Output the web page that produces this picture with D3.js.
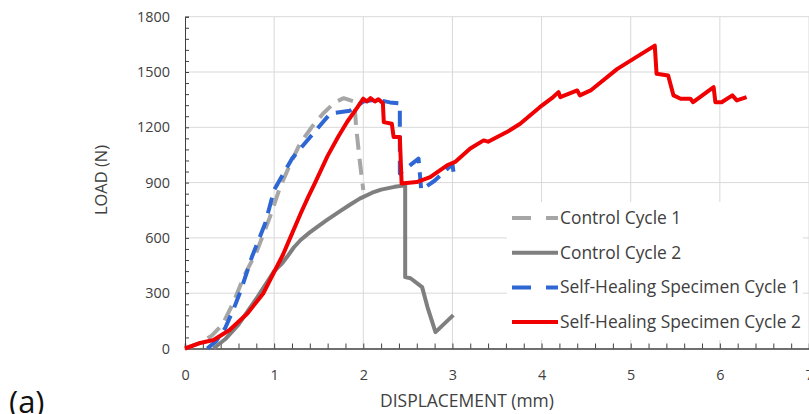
<!DOCTYPE html>
<html>
<head>
<meta charset="utf-8">
<script src="https://cdn.jsdelivr.net/npm/d3@7"></script>
<style>
  html, body { margin: 0; padding: 0; background: #fff; }
  svg { display: block; font-family: "Open Sans", "Liberation Sans", sans-serif; }
</style>
</head>
<body>
<svg id="chart" width="809" height="414"></svg>
<script>
// ---------- data ----------
const xTicks = [0, 1, 2, 3, 4, 5, 6, 7];
const yTicks = [0, 300, 600, 900, 1200, 1500, 1800];
const seriesNames = ["Control Cycle 1", "Control Cycle 2", "Self-Healing Specimen Cycle 1", "Self-Healing Specimen Cycle 2"];

const control1 = [[0.0,0],[0.17,30],[0.3,70],[0.42,130],[0.54,246],[0.66,390],[0.81,533],[0.95,710],[1.07,880],[1.18,1000],[1.29,1112],[1.42,1200],[1.55,1275],[1.68,1335],[1.78,1358],[1.9,1340],[1.92,1200],[1.96,1020],[2.0,860]];
const control2 = [[0.32,0],[0.45,50],[0.6,130],[0.8,270],[1.0,420],[1.09,462],[1.15,500],[1.22,548],[1.3,590],[1.4,630],[1.5,665],[1.59,696],[1.74,745],[1.85,780],[1.96,813],[2.1,845],[2.2,862],[2.35,877],[2.47,885],[2.47,387],[2.53,381],[2.66,333],[2.72,225],[2.81,89],[3.01,181]];
const healing1 = [[0.25,0],[0.35,40],[0.45,110],[0.55,220],[0.63,320],[0.75,496],[0.9,679],[1.0,860],[1.2,1030],[1.4,1145],[1.63,1275],[1.85,1290],[2.0,1340],[2.15,1350],[2.3,1335],[2.41,1330],[2.41,950],[2.62,1030],[2.65,860],[2.8,910],[3.0,1000],[3.02,930]];
const healing2 = [[0,0],[0.17,30],[0.32,46],[0.5,100],[0.7,190],[0.88,300],[1.0,415],[1.1,510],[1.18,600],[1.3,735],[1.38,820],[1.46,900],[1.6,1045],[1.72,1150],[1.82,1230],[1.93,1305],[2.0,1355],[2.04,1340],[2.08,1358],[2.13,1340],[2.17,1352],[2.22,1330],[2.23,1228],[2.32,1219],[2.34,1147],[2.41,1147],[2.43,895],[2.6,903],[2.75,930],[2.94,994],[3.03,1012],[3.2,1085],[3.35,1129],[3.4,1122],[3.61,1174],[3.76,1219],[3.98,1309],[4.13,1364],[4.19,1391],[4.21,1364],[4.4,1400],[4.43,1373],[4.55,1400],[4.85,1517],[5.03,1571],[5.27,1643],[5.29,1490],[5.42,1481],[5.48,1373],[5.56,1355],[5.67,1355],[5.7,1336],[5.93,1418],[5.95,1336],[6.02,1336],[6.14,1373],[6.19,1346],[6.3,1364]];

const seriesData = [control1, control2, healing1, healing2];
const seriesColors = ["#A6A6A6", "#7F7F7F", "#2E66D4", "#F00000"];
const seriesDashed = [true, false, true, false];

// ---------- helpers ----------
function fitSize(sel, base, target) {
  sel.style("font-size", base + "px");
  const w = sel.node().getComputedTextLength();
  const s = base * target / w;
  sel.style("font-size", s.toFixed(2) + "px");
  return s;
}

// ---------- layout ----------
const svg = d3.select("#chart");
const x = d3.scaleLinear().domain([0, 7]).range([185, 809]);
const y = d3.scaleLinear().domain([0, 1800]).range([348.5, 16.7]);

// gridlines
const grid = svg.append("g");
grid.selectAll("line.h").data(yTicks.filter(d => d > 0)).join("line")
  .attr("x1", x(0)).attr("x2", x(7))
  .attr("y1", d => y(d)).attr("y2", d => y(d))
  .attr("stroke", "#D9D9D9").attr("stroke-width", 1);
grid.selectAll("line.v").data(xTicks.filter(d => d > 0)).join("line")
  .attr("x1", d => x(d)).attr("x2", d => x(d))
  .attr("y1", y(0)).attr("y2", y(1800))
  .attr("stroke", "#D9D9D9").attr("stroke-width", 1);

// tick font size from "1800" width
const probe = svg.append("text").text("1800");
const tickSize = fitSize(probe, 15, 33);
probe.remove();

// y axis (ticks inward)
const yAxis = d3.axisLeft(y).tickValues(d3.range(0, 1801, 60)).tickSize(-4).tickFormat(d => yTicks.includes(d) ? d : "");
const gy = svg.append("g").attr("transform", `translate(${x(0)},0)`).call(yAxis);
gy.select(".domain").attr("stroke", "#404040");
gy.selectAll(".tick line").attr("stroke", "#404040");
gy.selectAll(".tick text").attr("x", -15).attr("fill", "#404040")
  .style("font-size", tickSize + "px").style("font-family", "'Open Sans', sans-serif");

// x axis (ticks inward)
const xAxis = d3.axisBottom(x).tickValues(d3.range(0, 7.001, 0.2)).tickSize(-5)
  .tickFormat(d => Math.abs(d - Math.round(d)) < 1e-6 ? Math.round(d) : "");
const gx = svg.append("g").attr("transform", `translate(0,${y(0)})`).call(xAxis);
gx.select(".domain").attr("stroke", "#404040").attr("stroke-width", 1.5);
gx.selectAll(".tick line").attr("stroke", "#404040");
gx.selectAll(".tick text").attr("y", 21).attr("fill", "#404040")
  .style("font-size", tickSize + "px").style("font-family", "'Open Sans', sans-serif");

// axis titles
const xt = svg.append("text").attr("x", 467).attr("y", 407).attr("text-anchor", "middle")
  .attr("fill", "#404040").text("DISPLACEMENT (mm)");
fitSize(xt, 16, 174);
const yt = svg.append("text").attr("transform", `translate(107,180) rotate(-90)`).attr("text-anchor", "middle")
  .attr("fill", "#404040").text("LOAD (N)");
fitSize(yt, 16, 70);
svg.append("text").attr("x", 9).attr("y", 413).attr("fill", "#111")
  .style("font-size", "31px").text("(a)");

// series lines
const line = d3.line().x(d => x(d[0])).y(d => y(d[1]));
seriesData.forEach((data, i) => {
  svg.append("path").datum(data)
    .attr("d", line)
    .attr("fill", "none")
    .attr("stroke", seriesColors[i])
    .attr("stroke-width", 4)
    .attr("stroke-linejoin", "round")
    .attr("stroke-dasharray", seriesDashed[i] ? "16,9" : null);
});

// legend
const lg = svg.append("g");
lg.append("rect").attr("x", 507).attr("y", 202).attr("width", 296).attr("height", 138).attr("fill", "#fff");
const lp = svg.append("text").text(seriesNames[3]);
const legSize = fitSize(lp, 16, 241);
lp.remove();
seriesNames.forEach((name, i) => {
  const yy = 218 + i * 34.7;
  lg.append("line").attr("x1", 512).attr("x2", 558).attr("y1", yy).attr("y2", yy)
    .attr("stroke", seriesColors[i]).attr("stroke-width", 4)
    .attr("stroke-dasharray", seriesDashed[i] ? "19,15" : null);
  lg.append("text").attr("x", 560).attr("y", yy).attr("dy", "0.35em")
    .attr("fill", "#404040").style("font-size", legSize + "px").text(name);
});
</script>
</body>
</html>
